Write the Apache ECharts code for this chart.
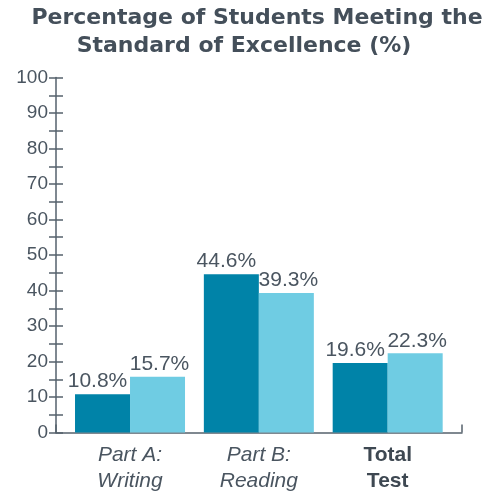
<!DOCTYPE html>
<html>
<head>
<meta charset="utf-8">
<script src="https://cdn.jsdelivr.net/npm/echarts@6/dist/echarts.min.js"></script>
<style>html,body{margin:0;padding:0;background:#fff;}#c{width:489px;height:491px;}</style>
</head>
<body>
<div id="c"></div>
<script>
var titleLines = ['Percentage of Students Meeting the', 'Standard of Excellence (%)'];
var categories = ['Part A:\nWriting', 'Part B:\nReading', 'Total\nTest'];
var seriesA = [10.8, 44.6, 19.6];
var seriesB = [15.7, 39.3, 22.3];
var yMin = 0, yMax = 100, yStep = 5, yLabelStep = 10;

var txt = '#4a5560';
var axisCol = '#55616c';
var chart = echarts.init(document.getElementById('c'), null, {renderer: 'canvas'});
var font = 'Liberation Sans, Arial, sans-serif';
var tfont = 'DejaVu Sans, sans-serif';

function labelCfg(dx) {
  return {show: true, position: 'top', distance: 2, offset: [dx, 0], color: txt, fontSize: 21, fontFamily: font,
    formatter: function (p) { return p.value.toFixed(1) + '%'; }};
}

chart.setOption({
  animation: false,
  graphic: [
    {type: 'text', x: 257, y: 18.5, style: {text: titleLines[0], font: 'bold 22px ' + tfont, fill: '#444f5a', align: 'center', verticalAlign: 'middle'}},
    {type: 'text', x: 244, y: 46, style: {text: titleLines[1], font: 'bold 22px ' + tfont, fill: '#444f5a', align: 'center', verticalAlign: 'middle'}}
  ],
  grid: [
    {left: 56, right: 27, top: 77.5, bottom: 58.5, outerBoundsMode: 'none', containLabel: false},
    {left: 65.6, right: 36.9, top: 77.5, bottom: 58.5, outerBoundsMode: 'none', containLabel: false}
  ],
  xAxis: [
    {gridIndex: 0, type: 'value', min: 0, max: 1, interval: 1,
      axisLine: {show: true, lineStyle: {color: axisCol, width: 1.5}},
      axisTick: {show: true, inside: true, length: 8, lineStyle: {color: axisCol, width: 1.5}},
      axisLabel: {show: false}, splitLine: {show: false}},
    {gridIndex: 1, type: 'category', data: categories,
      axisLine: {show: false}, axisTick: {show: false},
      axisLabel: {interval: 0, hideOverlap: false, margin: 10, color: txt, fontSize: 21, fontFamily: font, lineHeight: 26,
        formatter: function (v, i) { return i === 2 ? '{b|' + v.split('\n').join('}\n{b|') + '}' : '{i|' + v.split('\n').join('}\n{i|') + '}'; },
        rich: {i: {fontStyle: 'italic', fontSize: 21, color: txt, fontFamily: font, lineHeight: 26},
               b: {fontWeight: 'bold', fontSize: 21, color: '#3e4852', fontFamily: font, lineHeight: 26}}}}
  ],
  yAxis: [
    {gridIndex: 0, type: 'value', min: yMin, max: yMax, interval: yStep,
      axisLine: {show: true, lineStyle: {color: axisCol, width: 1.5}},
      axisTick: {show: true, inside: false, length: 7, lineStyle: {color: axisCol, width: 1.5}},
      axisLabel: {margin: 8, color: txt, fontSize: 19, fontFamily: font,
        formatter: function (v) { return v % yLabelStep === 0 ? String(v) : ''; }},
      splitLine: {show: false}},
    {gridIndex: 0, type: 'value', min: yMin, max: yMax, interval: yStep, position: 'left',
      axisLine: {show: false},
      axisTick: {show: true, inside: true, length: 7, lineStyle: {color: axisCol, width: 1.5}},
      axisLabel: {show: false}, splitLine: {show: false}},
    {gridIndex: 1, type: 'value', min: yMin, max: yMax, show: false}
  ],
  series: [
    {type: 'bar', xAxisIndex: 1, yAxisIndex: 2, data: seriesA, barWidth: 55, barGap: '0%',
      itemStyle: {color: '#0083a8'}, label: labelCfg(-5)},
    {type: 'bar', xAxisIndex: 1, yAxisIndex: 2, data: seriesB, barWidth: 55, barGap: '0%',
      itemStyle: {color: '#6fcce3'}, label: labelCfg(2)}
  ]
});
</script>
</body>
</html>
